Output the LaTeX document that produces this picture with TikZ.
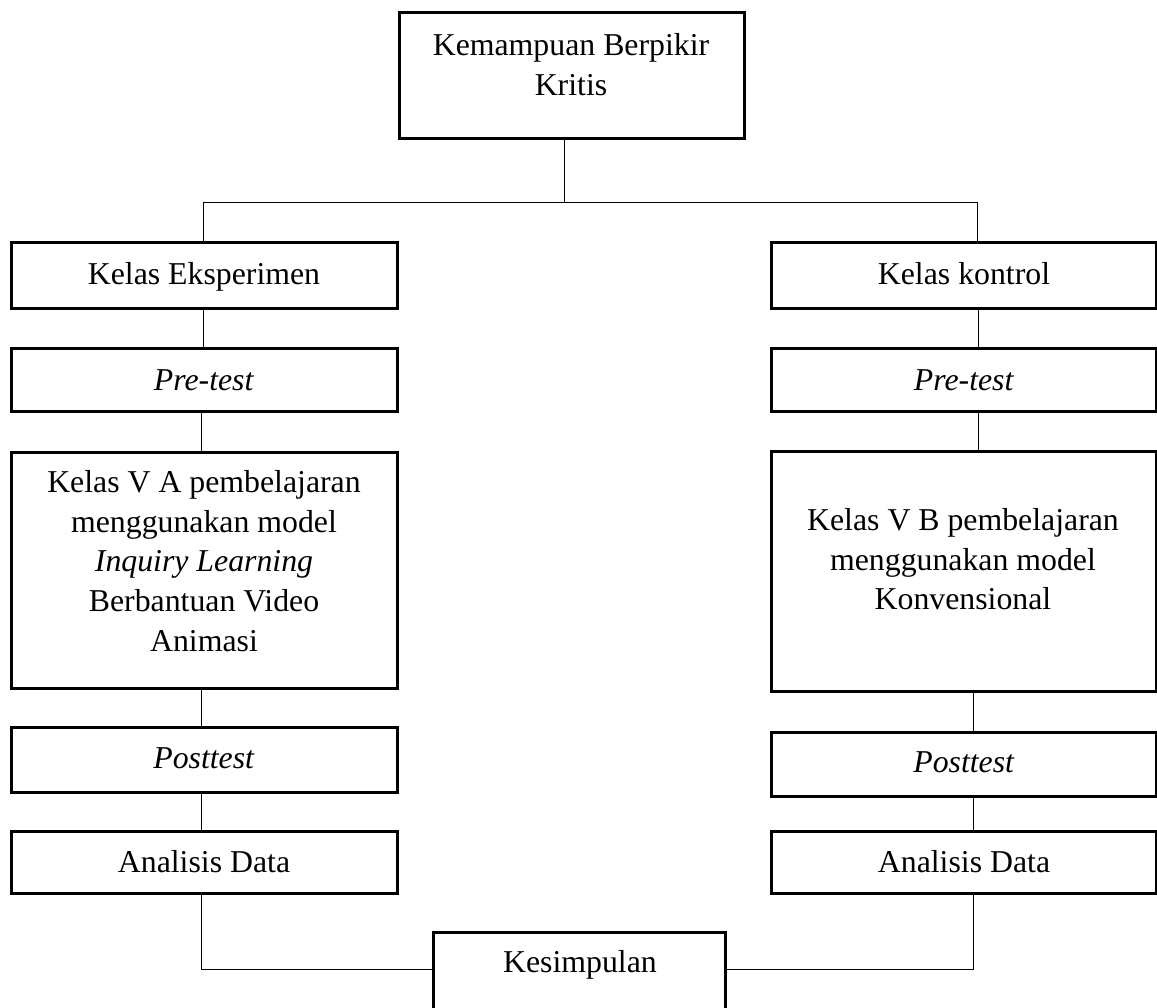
\documentclass[tikz,border=0pt]{standalone}
\usepackage{fontspec}
\setmainfont{Liberation Serif}
\tikzset{
  box/.style={draw, line width=3pt, inner sep=0pt, outer sep=0pt, minimum width=386pt},
  txt/.style={font=\fontsize{31.8}{39.7}\selectfont, inner sep=0pt, outer sep=0pt, align=center},
  conn/.style={line width=1pt}
}
\begin{document}
\begin{tikzpicture}[x=1pt,y=-1pt]
\useasboundingbox (0,0) rectangle (1157,1008);
\clip (0,0) rectangle (1157,1008);
% boxes
\node[box, minimum width=345pt, minimum height=126pt] (top) at (571.5,75.5) {};
\node[box, minimum height=66pt] (lke) at (204,276) {};
\node[box, minimum width=385pt, minimum height=66pt] (rkk) at (963.5,276) {};
\node[box, minimum height=62pt] (lpre) at (204,380) {};
\node[box, minimum width=385pt, minimum height=62pt] (rpre) at (963.5,380) {};
\node[box, minimum height=236pt] (lbig) at (204,570) {};
\node[box, minimum width=385pt, minimum height=240pt] (rbig) at (963.5,571) {};
\node[box, minimum height=65pt] (lpost) at (204,759.5) {};
\node[box, minimum width=385pt, minimum height=64pt] (rpost) at (963.5,764) {};
\node[box, minimum height=62pt] (lana) at (204,862) {};
\node[box, minimum width=385pt, minimum height=62pt] (rana) at (963.5,862) {};
\node[box, minimum width=292pt, minimum height=108pt] (kes) at (579,986) {};
% texts
\node[txt, anchor=north] (ttop) at (571,33.5) {\vphantom{l}Kemampuan Berpikir\\Kritis};
\node[txt, anchor=base] (tlke) at (204,285) {Kelas Eksperimen};
\node[txt, anchor=base] (trkk) at (964,285) {Kelas kontrol};
\node[txt, anchor=base] (tlpre) at (204,390) {\textit{Pre-test}};
\node[txt, anchor=base] (trpre) at (964,390) {\textit{Pre-test}};
\node[txt, anchor=north] (tlbig) at (204,470.5) {\vphantom{l}Kelas V A pembelajaran\\menggunakan model\\\textit{Inquiry Learning}\\Berbantuan Video\\Animasi};
\node[txt, anchor=north] (trbig) at (963,508.5) {\vphantom{l}Kelas V B pembelajaran\\menggunakan model\\Konvensional};
\node[txt, anchor=base] (tlpost) at (204,768) {\textit{Posttest}};
\node[txt, anchor=base] (trpost) at (964,772) {\textit{Posttest}};
\node[txt, anchor=base] (tlana) at (204,872) {Analisis Data};
\node[txt, anchor=base] (trana) at (964,872) {Analisis Data};
\node[txt, anchor=base] (tkes) at (580,972) {Kesimpulan};
% connector coordinates
\coordinate (tc) at (564,203);
\coordinate (hl) at (203,203);
\coordinate (hr) at (977,203);
\coordinate (lx1) at (203,0);
\coordinate (lx2) at (201,0);
\coordinate (rx1) at (978,0);
\coordinate (rx2) at (973,0);
\coordinate (lk) at (201,969);
\coordinate (rk) at (973,969);
% connectors
\draw[conn] (top.south -| tc) -- (tc);
\draw[conn] (lke.north -| hl) -- (hl) -- (hr) -- (rkk.north -| hr);
\draw[conn] (lke.south -| lx1) -- (lpre.north -| lx1);
\draw[conn] (lpre.south -| lx2) -- (lbig.north -| lx2);
\draw[conn] (lbig.south -| lx2) -- (lpost.north -| lx2);
\draw[conn] (lpost.south -| lx2) -- (lana.north -| lx2);
\draw[conn] (lana.south -| lk) -- (lk) -- (kes.west |- lk);
\draw[conn] (rkk.south -| rx1) -- (rpre.north -| rx1);
\draw[conn] (rpre.south -| rx1) -- (rbig.north -| rx1);
\draw[conn] (rbig.south -| rx2) -- (rpost.north -| rx2);
\draw[conn] (rpost.south -| rx2) -- (rana.north -| rx2);
\draw[conn] (rana.south -| rk) -- (rk) -- (kes.east |- rk);
\end{tikzpicture}
\end{document}
